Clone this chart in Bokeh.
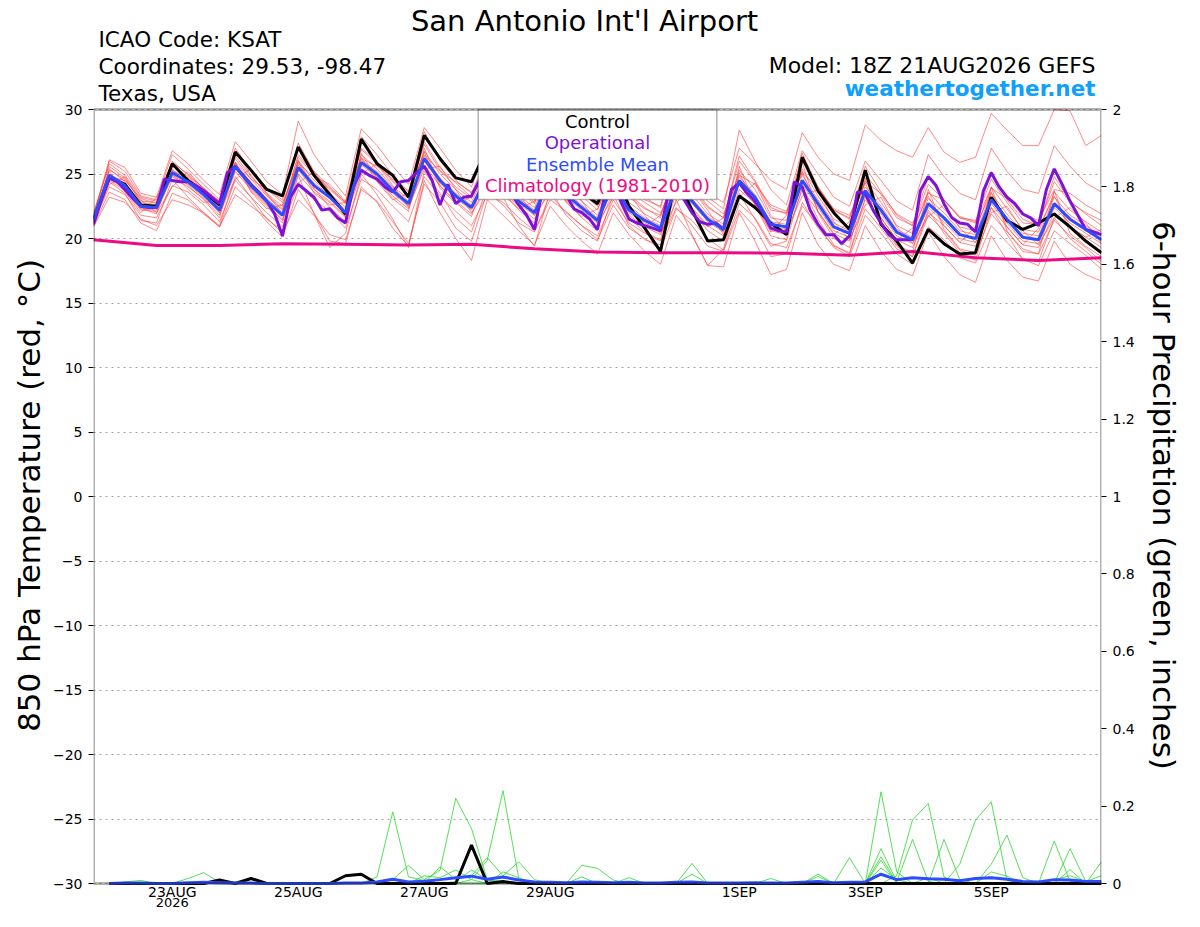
from bokeh.plotting import figure
from bokeh.models import Range1d, LinearAxis, FixedTicker, Label, BoxAnnotation
from bokeh.embed import file_html
from bokeh.resources import INLINE

# ---------------- data ----------------
# time axis: hours after 18Z 21AUG2026 (GEFS run), 6-hourly to 384 h
STEP_HOURS = list(range(0, 385, 6))
OPER_HOURS = list(range(0, 385, 3))
CLIM_HOURS = list(range(0, 385, 24))

X_TICKS = [30, 78, 126, 174, 246, 294, 342]
X_TICK_LABELS = ["23AUG", "25AUG", "27AUG", "29AUG", "1SEP", "3SEP", "5SEP"]
YEAR_LABEL = "2026"
T_TICKS = [-30, -25, -20, -15, -10, -5, 0, 5, 10, 15, 20, 25, 30]
P_TICKS = [0, 0.2, 0.4, 0.6, 0.8, 1, 1.2, 1.4, 1.6, 1.8, 2]
P_TICK_LABELS = ["0", "0.2", "0.4", "0.6", "0.8", "1", "1.2", "1.4", "1.6", "1.8", "2"]

CONTROL_T = [21.5, 24.7, 24.2, 22.6, 22.5, 25.8, 24.5, 23.6,
             22.6, 26.7, 25.3, 23.8, 23.3, 27.1, 24.9, 23.4,
             21.9, 27.7, 25.8, 24.9, 23.2, 28.0, 26.2, 24.7,
             24.4, 27.0, 25.5, 24.2, 23.4, 26.0, 24.6, 23.6,
             22.7, 25.5, 22.5, 20.8, 19.0, 24.8, 22.2, 19.8,
             19.9, 23.3, 22.4, 21.2, 20.3, 26.3, 23.7, 22.0,
             20.7, 25.3, 21.1, 19.8, 18.1, 20.7, 19.6, 18.8,
             18.9, 23.2, 21.4, 20.7, 21.2, 21.9, 20.9, 19.8,
             18.9]

MEAN_T = [21.5, 24.9, 24.1, 22.5, 22.4, 25.1, 24.4, 23.4,
          22.2, 25.6, 24.1, 22.9, 21.8, 25.5, 24.1, 23.2,
          22.0, 25.9, 25.0, 23.7, 22.7, 26.2, 24.5, 23.3,
          22.4, 24.8, 24.0, 22.9, 22.0, 24.6, 23.4, 22.4,
          21.4, 24.2, 22.2, 21.4, 20.8, 24.0, 22.9, 21.5,
          20.7, 24.5, 23.2, 21.1, 20.9, 24.5, 22.7, 20.9,
          20.4, 23.7, 22.2, 20.5, 19.9, 22.7, 21.6, 20.3,
          20.0, 23.0, 21.5, 20.1, 19.9, 22.7, 21.5, 20.7,
          19.9]

OPER_T = [21.1, 23.0, 24.7, 24.4, 23.8, 23.1, 22.5, 22.4,
          22.4, 24.6, 24.5, 24.4, 24.4, 24.1, 23.7, 23.2,
          22.7, 25.1, 25.6, 24.9, 24.2, 23.6, 22.9, 21.9,
          20.2, 23.2, 24.2, 23.7, 23.2, 22.2, 22.3, 21.6,
          21.2, 24.0, 25.3, 24.9, 24.6, 24.0, 23.6, 24.4,
          24.5, 25.1, 25.6, 24.5, 22.6, 24.2, 22.7, 23.2,
          23.3, 24.5, 25.2, 24.8, 24.2, 23.5, 22.6, 21.8,
          20.7, 23.8, 25.0, 24.2, 23.4, 22.3, 22.0, 21.5,
          20.7, 23.6, 24.6, 22.8, 21.5, 21.2, 21.0, 20.8,
          20.6, 23.5, 24.8, 23.0, 22.0, 21.3, 21.1, 21.2,
          20.7, 23.8, 24.3, 23.5, 22.9, 22.0, 20.8, 20.6,
          20.5, 24.4, 24.0, 22.2, 21.1, 20.3, 20.3, 19.6,
          20.2, 23.6, 23.5, 22.2, 21.2, 20.3, 19.9, 19.9,
          19.9, 23.7, 24.8, 24.1, 22.7, 21.6, 21.2, 21.1,
          20.5, 23.7, 25.1, 24.0, 23.2, 22.7, 21.9, 21.6,
          21.0, 23.8, 25.4, 24.2, 22.9, 21.8, 20.7, 20.5,
          20.3]

CLIM_T = [19.9, 19.45, 19.45, 19.6, 19.55, 19.5, 19.55, 19.2, 18.95,
          18.9, 18.9, 18.85, 18.7, 19.0, 18.5, 18.3, 18.5]

MEMBER_01 = [21.8, 26.0, 25.2, 23.3, 23.0, 26.5, 25.4, 24.2,
             23.0, 27.0, 25.3, 23.8, 23.0, 27.4, 25.2, 24.0,
             22.8, 27.9, 26.5, 24.9, 23.6, 28.3, 26.0, 24.5,
             23.5, 26.4, 25.2, 23.9, 23.0, 26.3, 24.6, 23.5,
             22.5, 26.0, 23.4, 22.4, 21.6, 25.8, 24.2, 22.5,
             21.6, 26.4, 24.5, 22.4, 21.9, 26.6, 24.0, 22.2,
             21.5, 25.6, 23.6, 21.8, 21.0, 24.8, 23.0, 21.6,
             21.2, 25.2, 23.0, 21.5, 21.0, 24.8, 22.9, 21.9,
             21.0]
MEMBER_02 = [21.2, 24.0, 23.4, 21.8, 21.6, 24.1, 23.6, 22.6,
             21.3, 24.5, 23.2, 22.0, 20.9, 24.2, 23.0, 22.1,
             20.8, 24.6, 23.8, 22.5, 21.3, 24.8, 23.3, 22.1,
             21.0, 23.4, 22.8, 21.6, 20.6, 23.0, 22.1, 21.0,
             19.9, 22.6, 20.8, 20.0, 19.2, 22.3, 21.4, 20.0,
             19.1, 22.7, 21.6, 19.6, 19.3, 22.5, 21.0, 19.3,
             18.6, 21.8, 20.4, 18.8, 18.0, 20.9, 19.9, 18.5,
             18.1, 21.0, 19.7, 18.4, 17.9, 20.6, 19.6, 18.7,
             17.6]
MEMBER_03 = [22.0, 25.6, 24.7, 22.8, 22.6, 25.9, 25.0, 23.9,
             22.9, 26.8, 24.9, 23.4, 22.3, 26.5, 25.0, 23.9,
             22.8, 27.0, 26.0, 24.5, 23.4, 27.5, 25.5, 24.3,
             23.2, 25.8, 25.2, 24.0, 22.8, 26.0, 25.0, 23.8,
             22.6, 25.5, 24.0, 23.0, 22.5, 26.5, 25.0, 23.5,
             22.8, 27.0, 25.8, 24.5, 23.8, 28.2, 26.3, 25.0,
             24.5, 28.8, 27.6, 26.8, 26.3, 28.6, 26.7, 25.9,
             26.3, 29.7, 28.4, 27.2, 27.2, 30.0, 29.9, 27.2,
             28.0]
MEMBER_04 = [21.0, 23.6, 23.0, 21.2, 20.6, 23.5, 23.0, 21.9,
             20.9, 24.0, 22.8, 21.3, 20.1, 23.8, 22.0, 19.8,
             19.6, 24.0, 22.8, 20.8, 19.4, 24.5, 22.0, 20.0,
             18.3, 23.0, 21.8, 20.6, 19.5, 22.5, 21.0, 19.8,
             18.8, 22.0, 20.3, 19.0, 18.0, 21.8, 20.2, 17.9,
             17.8, 22.0, 19.8, 17.2, 17.6, 22.0, 19.5, 18.0,
             17.5, 21.0, 19.0, 17.6, 17.1, 20.5, 18.6, 17.2,
             16.6, 20.2, 18.3, 17.0, 16.7, 19.8, 18.0, 17.2,
             16.7]
MEMBER_05 = [21.4, 25.3, 24.6, 22.9, 22.8, 25.6, 24.8, 23.8,
             22.6, 26.2, 24.6, 23.3, 22.2, 26.0, 24.5, 23.5,
             22.4, 26.5, 25.4, 24.0, 23.1, 26.8, 25.0, 23.8,
             22.8, 25.5, 24.5, 23.3, 22.4, 25.2, 23.9, 22.9,
             21.8, 24.9, 22.8, 21.9, 21.2, 24.6, 23.4, 21.9,
             21.1, 25.3, 23.8, 21.6, 21.4, 25.4, 23.3, 21.5,
             20.9, 24.5, 22.8, 21.0, 20.4, 23.6, 22.3, 20.9,
             20.6, 24.0, 22.3, 20.7, 20.5, 23.6, 22.2, 21.3,
             20.5]
MEMBER_06 = [21.7, 24.5, 23.7, 22.2, 22.1, 24.8, 24.0, 23.1,
             21.8, 25.2, 23.8, 22.6, 21.4, 25.0, 23.6, 22.8,
             21.6, 25.4, 24.6, 23.3, 22.3, 25.7, 24.1, 22.9,
             21.9, 24.3, 23.6, 22.5, 21.5, 24.0, 23.0, 21.9,
             20.9, 23.6, 21.8, 20.9, 20.3, 23.4, 22.4, 21.0,
             20.2, 23.8, 22.7, 20.6, 20.3, 23.8, 22.1, 20.4,
             19.8, 23.0, 21.6, 19.9, 19.3, 22.0, 21.0, 19.7,
             19.4, 22.4, 20.9, 19.5, 19.3, 22.0, 20.9, 20.1,
             19.3]
MEMBER_07 = [21.3, 24.2, 24.8, 23.0, 22.0, 24.0, 25.2, 23.8,
             22.0, 24.6, 25.4, 23.5, 21.9, 24.3, 25.2, 23.6,
             21.7, 25.0, 25.8, 24.1, 22.4, 25.4, 25.6, 23.8,
             22.0, 23.8, 24.9, 23.4, 21.8, 23.6, 24.4, 22.9,
             21.2, 23.2, 23.5, 21.8, 20.4, 22.8, 23.8, 22.2,
             20.3, 23.2, 24.3, 21.8, 20.6, 23.3, 23.8, 21.3,
             19.9, 22.6, 23.2, 20.9, 19.6, 21.7, 22.6, 20.8,
             19.7, 22.0, 22.5, 20.6, 19.5, 21.6, 22.4, 21.2,
             19.6]
MEMBER_08 = [21.6, 26.1, 25.5, 23.5, 23.2, 26.8, 25.8, 24.5,
             23.4, 27.5, 26.0, 24.4, 23.4, 29.1, 26.5, 24.8,
             23.3, 28.5, 27.2, 25.6, 24.2, 28.6, 27.0, 25.3,
             24.0, 27.2, 26.0, 24.5, 23.5, 27.0, 25.5, 24.2,
             23.0, 26.8, 24.6, 23.2, 22.4, 27.0, 25.0, 23.2,
             22.3, 28.4, 26.0, 23.8, 22.6, 26.8, 25.0, 23.2,
             22.5, 26.0, 24.5, 22.9, 22.2, 26.5, 24.8, 23.5,
             23.0, 27.0, 25.2, 23.8, 23.5, 27.2, 25.6, 24.3,
             23.6]
MEMBER_09 = [20.9, 23.2, 22.8, 21.5, 21.0, 23.0, 22.6, 22.0,
             20.9, 23.4, 22.5, 21.6, 20.4, 23.0, 21.8, 20.3,
             19.9, 23.8, 22.9, 21.3, 19.6, 24.2, 22.8, 20.8,
             19.8, 23.6, 22.6, 21.2, 20.5, 23.4, 22.0, 21.0,
             20.2, 23.0, 21.2, 20.4, 19.8, 22.4, 21.0, 19.4,
             19.0, 22.2, 20.9, 18.6, 18.8, 22.8, 20.8, 19.4,
             18.9, 22.3, 20.8, 19.2, 18.6, 21.8, 20.6, 19.1,
             18.7, 21.9, 20.5, 19.2, 18.8, 21.4, 20.2, 19.3,
             18.2]
MEMBER_10 = [21.5, 25.0, 24.3, 22.6, 22.5, 25.3, 24.6, 23.6,
             22.4, 25.8, 24.3, 23.1, 22.0, 25.7, 24.3, 23.4,
             22.2, 26.1, 25.2, 23.9, 22.9, 26.4, 24.7, 23.5,
             22.6, 25.1, 24.3, 23.1, 22.2, 24.9, 23.6, 22.6,
             21.6, 24.5, 22.5, 21.6, 21.0, 24.3, 23.1, 21.7,
             20.9, 24.8, 23.4, 21.3, 21.1, 24.9, 23.0, 21.2,
             20.6, 24.0, 22.5, 20.7, 20.1, 23.1, 22.0, 20.6,
             20.3, 23.5, 21.9, 20.4, 20.2, 23.2, 21.8, 21.0,
             20.2]
MEMBER_11 = [21.8, 25.2, 23.6, 22.0, 23.2, 25.0, 23.8, 22.8,
             22.9, 25.8, 23.6, 22.3, 22.6, 26.0, 23.5, 22.6,
             22.8, 26.3, 24.4, 23.0, 23.5, 26.7, 23.9, 22.7,
             23.2, 25.4, 23.4, 22.3, 22.9, 25.2, 22.8, 21.7,
             22.3, 24.8, 21.6, 20.9, 21.8, 24.7, 22.3, 20.9,
             21.6, 25.1, 22.6, 20.5, 21.8, 25.2, 22.1, 20.3,
             21.3, 24.3, 21.6, 19.9, 20.8, 23.3, 21.0, 19.7,
             20.9, 23.6, 20.9, 19.5, 20.8, 23.3, 20.9, 20.1,
             20.7]
MEMBER_12 = [21.2, 24.6, 23.9, 22.3, 22.2, 24.9, 24.2, 23.2,
             22.0, 25.4, 23.9, 22.7, 21.5, 25.3, 23.8, 22.9,
             21.7, 25.7, 24.8, 23.5, 22.5, 26.0, 24.3, 23.1,
             22.2, 24.6, 23.8, 22.7, 21.8, 24.4, 23.2, 22.2,
             21.2, 24.0, 22.0, 21.2, 20.6, 23.8, 22.7, 21.3,
             20.5, 24.3, 23.0, 20.9, 20.7, 24.2, 22.4, 20.6,
             20.1, 23.4, 21.9, 20.2, 19.6, 22.4, 21.3, 20.0,
             19.7, 22.7, 21.2, 19.8, 19.6, 22.4, 21.2, 20.4,
             19.6]
MEMBER_13 = [21.0, 24.4, 23.5, 21.4, 21.2, 24.6, 23.2, 22.0,
             21.0, 24.8, 23.2, 21.5, 20.6, 24.9, 21.9, 19.3,
             20.4, 25.0, 23.4, 21.5, 19.3, 25.2, 23.5, 21.6,
             20.5, 24.0, 23.2, 21.0, 19.4, 23.8, 21.8, 20.6,
             19.8, 23.4, 21.0, 19.9, 19.5, 23.0, 20.3, 17.9,
             19.2, 23.5, 21.5, 19.4, 19.8, 24.0, 21.5, 19.5,
             18.8, 23.2, 21.0, 19.4, 18.6, 22.2, 20.4, 18.9,
             18.3, 22.4, 20.3, 18.4, 18.2, 21.6, 20.0, 19.0,
             18.0]
MEMBER_14 = [21.9, 25.8, 24.9, 23.2, 22.9, 26.0, 24.9, 23.9,
             22.8, 26.4, 24.8, 23.5, 22.5, 26.3, 24.9, 23.8,
             22.7, 26.9, 25.8, 24.4, 23.3, 27.3, 25.3, 24.0,
             23.1, 25.9, 25.0, 23.7, 22.7, 25.7, 24.3, 23.3,
             22.2, 25.4, 23.2, 22.3, 21.8, 25.2, 23.9, 22.4,
             21.6, 26.0, 24.4, 22.2, 22.0, 26.0, 24.0, 22.2,
             21.6, 25.0, 23.4, 21.6, 21.0, 24.2, 23.0, 21.6,
             21.4, 24.6, 22.8, 21.2, 21.1, 24.4, 22.8, 22.0,
             21.4]
MEMBER_15 = [21.3, 25.4, 24.4, 22.4, 21.9, 25.4, 24.1, 23.0,
             21.6, 25.9, 23.7, 22.5, 21.2, 26.1, 23.9, 22.4,
             21.3, 26.6, 24.6, 23.1, 22.1, 27.0, 24.1, 22.8,
             21.7, 25.6, 23.6, 22.2, 21.2, 25.3, 22.9, 21.6,
             20.6, 25.0, 21.6, 20.5, 19.9, 24.9, 22.1, 20.6,
             19.8, 25.6, 22.6, 20.2, 19.9, 25.9, 22.0, 20.0,
             19.3, 24.7, 21.4, 19.5, 18.9, 23.8, 20.7, 19.2,
             18.9, 24.0, 20.6, 19.0, 18.8, 23.7, 20.4, 19.4,
             18.6]
MEMBER_16 = [21.6, 24.8, 24.5, 23.1, 22.7, 25.2, 24.7, 23.7,
             22.9, 25.9, 24.6, 23.8, 22.8, 25.8, 24.8, 24.2,
             22.9, 26.2, 25.6, 24.6, 23.7, 26.5, 25.2, 24.4,
             23.6, 25.2, 24.7, 24.0, 23.4, 25.0, 24.6, 23.8,
             22.9, 24.9, 23.6, 22.8, 22.0, 24.6, 24.0, 22.9,
             21.9, 24.9, 24.2, 22.6, 22.1, 25.1, 23.9, 22.3,
             21.8, 24.4, 23.5, 21.9, 21.2, 23.5, 23.0, 21.7,
             21.3, 23.9, 23.1, 21.9, 21.4, 23.8, 23.5, 22.6,
             21.9]
MEMBERS_T = [MEMBER_01, MEMBER_02, MEMBER_03, MEMBER_04, MEMBER_05, MEMBER_06,
             MEMBER_07, MEMBER_08, MEMBER_09, MEMBER_10, MEMBER_11, MEMBER_12,
             MEMBER_13, MEMBER_14, MEMBER_15, MEMBER_16]

# 6-hour precipitation (inches); first value (analysis time) is not drawn
CONTROL_P = [0, 0, 0, 0, 0, 0, 0, 0,
             .009, 0, .013, 0, 0, 0, 0, 0,
             .020, .024, 0, 0, 0, 0, 0, 0,
             .099, 0, .005, 0, 0, 0, 0, 0,
             0, 0, 0, 0, 0, 0, 0, 0,
             0, 0, 0, 0, 0, 0, 0, 0,
             0, 0, 0, 0, 0, 0, 0, 0,
             0, 0, 0, 0, 0, 0, 0, 0,
             0]
MEAN_P = [0, 0, .001, .001, 0, 0, .002, .003,
          .002, .001, .001, 0, 0, 0, 0, 0,
          .001, .001, .004, .011, .004, .006, .010, .015,
          .019, .011, .017, .009, .004, .003, .002, .004,
          .003, .002, .003, .001, .001, .003, .004, .001,
          .001, .001, .002, .001, .001, .003, .005, .002,
          .003, .004, .024, .010, .015, .012, .011, .007,
          .013, .015, .011, .005, .004, .010, .009, .005,
          .005]
PMEMBER_A = [0, 0, 0, 0, 0, 0, .013, .028,
             .003, 0, 0, 0, 0, 0, 0, 0,
             0, 0, .017, .185, .017, .008, 0, 0,
             0, 0, 0, 0, 0, 0, 0, 0,
             0, 0, 0, 0, 0, 0, .052, 0,
             0, 0, 0, 0, 0, 0, 0, 0,
             .067, 0, .237, .030, 0, 0, 0, 0,
             0, .050, .125, .015, 0, 0, 0, 0,
             0]
PMEMBER_B = [0, 0, .004, .008, 0, 0, 0, 0,
             0, 0, 0, 0, 0, 0, 0, 0,
             0, 0, 0, .010, .047, .010, .034, .220,
             .142, .010, 0, 0, 0, 0, 0, .047,
             .039, .009, 0, 0, 0, 0, 0, 0,
             0, 0, 0, 0, 0, 0, 0, 0,
             0, 0, 0, .020, .164, .207, .017, 0,
             0, 0, 0, 0, 0, .110, .005, 0,
             0]
PMEMBER_C = [0, 0, 0, 0, 0, 0, 0, 0,
             0, 0, 0, 0, 0, 0, 0, 0,
             0, 0, 0, 0, 0, 0, 0, 0,
             .010, .060, .240, .013, 0, 0, 0, 0,
             0, 0, .015, 0, 0, 0, 0, 0,
             0, 0, 0, 0, 0, 0, .024, 0,
             0, 0, .090, .005, .114, .005, 0, 0,
             0, 0, 0, 0, 0, 0, .090, .005,
             0]
PMEMBER_D = [0, 0, 0, 0, 0, 0, 0, 0,
             0, 0, 0, 0, 0, 0, 0, 0,
             0, 0, 0, 0, 0, 0, .043, .010,
             .020, .067, .020, .056, .010, 0, 0, 0,
             0, 0, 0, 0, 0, 0, .024, 0,
             0, 0, 0, 0, 0, 0, 0, 0,
             0, 0, .069, .003, 0, 0, .114, .010,
             0, 0, 0, 0, 0, 0, 0, 0,
             .056]
PMEMBER_E = [0, 0, 0, 0, 0, 0, 0, 0,
             0, 0, 0, 0, 0, 0, 0, 0,
             0, 0, 0, 0, 0, .020, .015, .035,
             .010, 0, .030, .015, 0, 0, 0, .017,
             0, 0, 0, 0, 0, 0, 0, 0,
             0, 0, 0, .013, 0, 0, 0, 0,
             0, 0, .060, 0, 0, 0, 0, .050,
             .164, .211, .008, 0, 0, 0, .036, 0,
             0]
PMEMBER_F = [0, 0, 0, 0, 0, 0, 0, 0,
             0, 0, 0, 0, 0, 0, 0, 0,
             0, 0, 0, 0, 0, 0, 0, .005,
             .035, .010, .005, 0, 0, 0, 0, 0,
             0, 0, 0, 0, 0, 0, 0, 0,
             0, 0, 0, 0, 0, 0, .018, 0,
             0, 0, .040, .010, 0, .015, 0, 0,
             0, .030, .019, 0, 0, .010, .020, .005,
             .020]
MEMBERS_P = [PMEMBER_A, PMEMBER_B, PMEMBER_C, PMEMBER_D, PMEMBER_E, PMEMBER_F]

TITLE = "San Antonio Int'l Airport"
INFO_LEFT = ["ICAO Code: KSAT", "Coordinates: 29.53, -98.47", "Texas, USA"]
MODEL_TEXT = "Model: 18Z 21AUG2026 GEFS"
SITE_TEXT = "weathertogether.net"
LEGEND_TEXT = ["Control", "Operational", "Ensemble Mean", "Climatology (1981-2010)"]
Y_LABEL = "850 hPa Temperature (red, \u00b0C)"
Y2_LABEL = "6-hour Precipitation (green, inches)"

# ---------------- styling / geometry ----------------
FONT = "DejaVu Sans"
C_MEMBER = "#ff3a3a"
C_PMEMBER = "#2bd92b"
C_CONTROL = "#000000"
C_OPER = "#7e12d8"
C_MEAN = "#2d4cff"
C_CLIM = "#ee0a84"
C_SITE = "#0ea0fa"

W, H = 1184, 911
PLOT_L, PLOT_R, PLOT_T, PLOT_B = 93, 1107, 109, 883   # plot box in page px
X0, X1 = 0, 384
Y0, Y1 = -30, 30
PX_PER_DEG = (PLOT_B - PLOT_T) / (Y1 - Y0)
PAD_TOP = PLOT_T / PX_PER_DEG
PAD_BOT = (H - PLOT_B) / PX_PER_DEG
P_PER_DEG = 2.0 / (Y1 - Y0)
# axis titles are centred on the full (taller) frame: pad them so that the
# visible words sit centred on the plot box
LABEL_PAD = "\u00a0" * 8


def hx(px):
    return X0 + (px - PLOT_L) * (X1 - X0) / (PLOT_R - PLOT_L)


def ty(py):
    return Y1 - (py - PLOT_T) / PX_PER_DEG


def xpx(hours):
    return PLOT_L + (hours - X0) * (PLOT_R - PLOT_L) / (X1 - X0)


p = figure(width=W, height=H, x_range=Range1d(X0, X1),
           y_range=Range1d(Y0 - PAD_BOT, Y1 + PAD_TOP),
           output_backend="svg", toolbar_location=None, x_axis_location=None,
           min_border_left=PLOT_L, min_border_right=W - PLOT_R,
           min_border_top=0, min_border_bottom=0)
p.title.visible = False
p.background_fill_color = "white"
p.border_fill_color = "white"
p.outline_line_color = None
p.extra_y_ranges = {"precip": Range1d((Y0 - PAD_BOT + 30) * P_PER_DEG,
                                      (Y1 + PAD_TOP + 30) * P_PER_DEG)}

p.xgrid.visible = False
p.ygrid.ticker = FixedTicker(ticks=T_TICKS)
p.ygrid.grid_line_color = "#a0a0a0"
p.ygrid.grid_line_dash = "2 4"
p.ygrid.grid_line_width = 1

ya = p.yaxis[0]
ya.bounds = (Y0, Y1)
ya.ticker = FixedTicker(ticks=T_TICKS)
ya.major_tick_out = 5
ya.major_tick_in = 0
ya.major_tick_line_width = 1
ya.minor_tick_line_color = None
ya.major_label_standoff = 6
ya.major_label_text_font = FONT
ya.major_label_text_font_size = "14px"
ya.major_label_text_color = "black"
ya.axis_line_color = None
ya.axis_label = Y_LABEL + LABEL_PAD
ya.axis_label_text_font = FONT
ya.axis_label_text_font_size = "31px"
ya.axis_label_text_font_style = "normal"
ya.axis_label_text_color = "black"
ya.axis_label_standoff = 3

ra = LinearAxis(y_range_name="precip", ticker=FixedTicker(ticks=P_TICKS), bounds=(0, 2))
ra.major_label_overrides = {t: l for t, l in zip(P_TICKS, P_TICK_LABELS)}
ra.major_tick_out = 5
ra.major_tick_in = 0
ra.minor_tick_line_color = None
ra.major_label_standoff = 6
ra.major_label_text_font = FONT
ra.major_label_text_font_size = "14px"
ra.major_label_text_color = "black"
ra.axis_line_color = None
ra.axis_label = LABEL_PAD + Y2_LABEL
ra.axis_label_text_font = FONT
ra.axis_label_text_font_size = "31px"
ra.axis_label_text_font_style = "normal"
ra.axis_label_text_color = "black"
ra.axis_label_standoff = 8
p.add_layout(ra, "right")

# ---------------- series ----------------
for m in MEMBERS_T:
    p.line(STEP_HOURS, m, line_color=C_MEMBER, line_width=0.8, line_alpha=0.75)

for m in MEMBERS_P:
    p.line(STEP_HOURS[1:], m[1:], y_range_name="precip", line_color=C_PMEMBER,
           line_width=0.9, line_alpha=0.9)

p.line(CLIM_HOURS, CLIM_T, line_color=C_CLIM, line_width=3)
p.line(STEP_HOURS, CONTROL_T, line_color=C_CONTROL, line_width=3)
p.line(OPER_HOURS, OPER_T, line_color=C_OPER, line_width=3)
p.line(STEP_HOURS, MEAN_T, line_color=C_MEAN, line_width=3)

p.line(STEP_HOURS[1:], CONTROL_P[1:], y_range_name="precip", line_color=C_CONTROL, line_width=3)
p.line(STEP_HOURS[1:], MEAN_P[1:], y_range_name="precip", line_color=C_MEAN, line_width=3)


# ---------------- texts ----------------
def add_text(px, base_py, text, size, color="black", align="left", style="normal"):
    # Label is anchored a little below its baseline: lift by ~1/3 of the font size
    p.add_layout(Label(x=hx(px), y=ty(base_py - 0.33 * size), text=text, text_font=FONT,
                       text_font_size=f"{size}px", text_font_style=style,
                       text_color=color, text_align=align, text_baseline="alphabetic"))


# legend box
p.add_layout(BoxAnnotation(left=hx(480), right=hx(720), top=Y1, bottom=ty(199),
                           fill_color="white", fill_alpha=1.0,
                           line_color="black", line_width=1.5))
legend_colors = [C_CONTROL, C_OPER, C_MEAN, C_CLIM]
legend_base = [127, 148, 169.5, 191]
for txt, col, py in zip(LEGEND_TEXT, legend_colors, legend_base):
    add_text(600, py, txt, 18, col, "center")

# plot box border
p.add_layout(BoxAnnotation(left=X0, right=X1, top=Y1, bottom=Y0,
                           fill_alpha=0.0, line_color="black", line_width=3))

# header
add_text(587, 30, TITLE, 29, "black", "center")
add_text(98, 46, INFO_LEFT[0], 21.5)
add_text(98, 73, INFO_LEFT[1], 21.5)
add_text(98, 100, INFO_LEFT[2], 21.5)
add_text(1101, 72, MODEL_TEXT, 22, "black", "right")
add_text(1101, 95, SITE_TEXT, 21.5, C_SITE, "right", "bold")

# time tick labels
for t, lab in zip(X_TICKS, X_TICK_LABELS):
    add_text(xpx(t), 896, lab, 14, "black", "center")
add_text(xpx(X_TICKS[0]), 906.5, YEAR_LABEL, 13, "black", "center")

open("out.html", "w").write(file_html(p, INLINE))
